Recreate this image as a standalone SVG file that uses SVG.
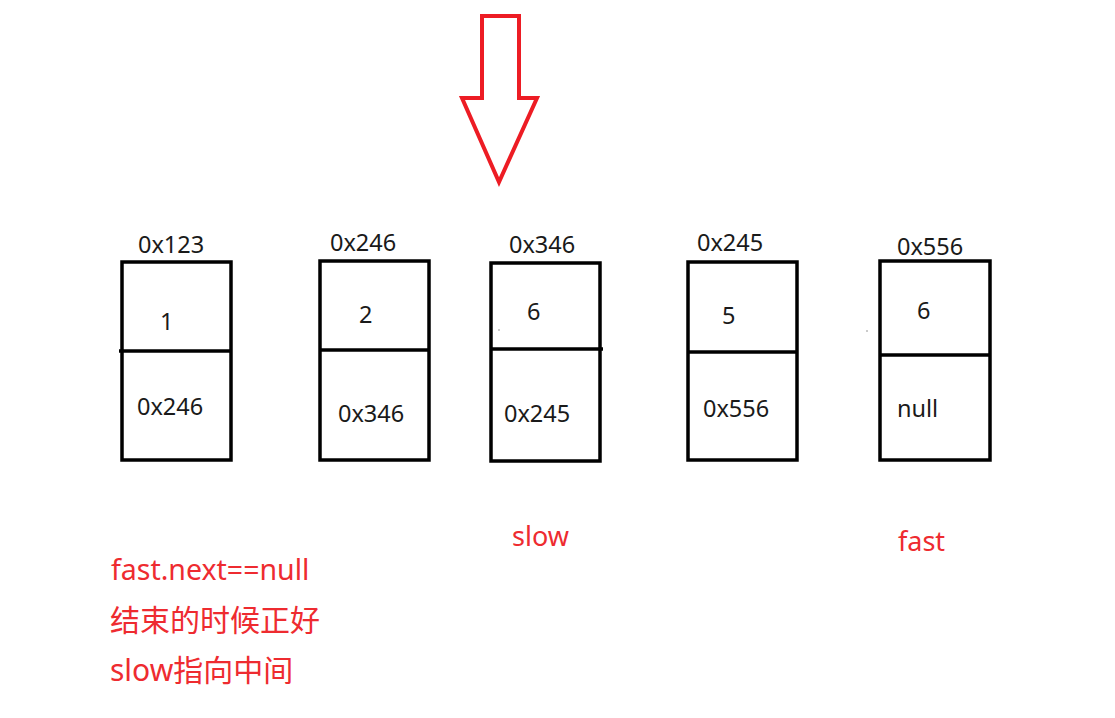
<svg xmlns="http://www.w3.org/2000/svg" width="1115" height="718" viewBox="0 0 1115 718">
<style>
.box{fill:none;stroke:#000;stroke-width:3.5}
.div{stroke:#000;stroke-width:3.5}
.t{font-family:"Noto Sans","Liberation Sans",sans-serif;font-size:23.5px;fill:#1a1a1a}
.r{font-family:"Noto Sans","Noto Sans CJK SC",sans-serif;font-size:27px;fill:#ee2b30}
.rc{font-family:"Noto Sans","Noto Sans CJK SC",sans-serif;font-size:30px;fill:#ee2b30}
</style>
<rect width="1115" height="718" fill="#fff"/>
<g id="pointer-arrow">
<polygon points="482,16 519,16 519,98 537,98 499,182 462,98 482,98" fill="#fff" stroke="#ed1c24" stroke-width="4" stroke-linejoin="miter"/>
</g>
<g id="node-0x123">
<rect class="box" x="122" y="262" width="109" height="198"/>
<line class="div" x1="119" y1="351" x2="231" y2="351"/>
<text class="t" x="138" y="253">0x123</text>
<text class="t" x="160" y="330">1</text>
<text class="t" x="137" y="415">0x246</text>
</g>
<g id="node-0x246">
<rect class="box" x="320" y="261" width="109" height="199"/>
<line class="div" x1="320" y1="350" x2="429" y2="350"/>
<text class="t" x="330" y="251">0x246</text>
<text class="t" x="359" y="323">2</text>
<text class="t" x="338" y="422">0x346</text>
</g>
<g id="node-0x346">
<rect class="box" x="491" y="263" width="109" height="198"/>
<line class="div" x1="491" y1="349" x2="603" y2="349"/>
<text class="t" x="509" y="253">0x346</text>
<text class="t" x="527" y="320">6</text>
<text class="t" x="504" y="422">0x245</text>
<circle cx="499" cy="330" r="0.8" fill="#888"/>
</g>
<g id="node-0x245">
<rect class="box" x="688" y="262" width="109" height="198"/>
<line class="div" x1="688" y1="352" x2="797" y2="352"/>
<text class="t" x="697" y="251">0x245</text>
<text class="t" x="722" y="324">5</text>
<text class="t" x="703" y="417">0x556</text>
</g>
<g id="node-0x556">
<rect class="box" x="880" y="261" width="110" height="199"/>
<line class="div" x1="880" y1="355" x2="990" y2="355"/>
<text class="t" x="897" y="255">0x556</text>
<text class="t" x="917" y="319">6</text>
<text class="t" x="897" y="417">null</text>
<circle cx="867" cy="331" r="0.8" fill="#888"/>
</g>
<g id="connectors"></g>
<g id="labels">
<text class="r" x="512" y="546">slow</text>
<text class="r" x="898" y="551">fast</text>
<text class="r" x="111" y="580" style="font-size:28.5px">fast.next==null</text>
<text class="rc" x="110" y="631">结束的时候正好</text>
<text class="rc" x="110" y="681">slow指向中间</text>
</g>
</svg>
